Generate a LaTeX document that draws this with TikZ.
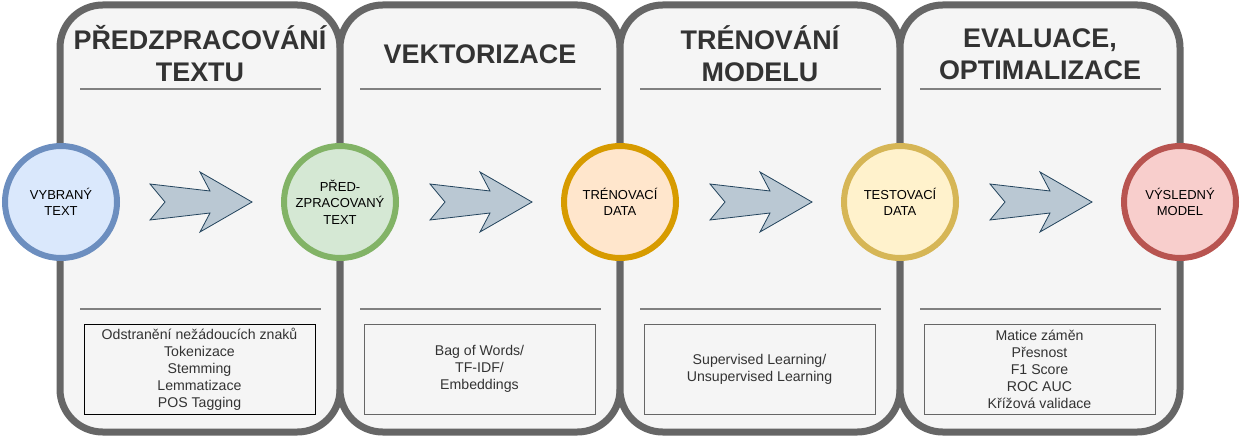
\documentclass[tikz,border=0pt]{standalone}
\usepackage{fontspec}
\setmainfont{Liberation Sans}
\usetikzlibrary{positioning}

\definecolor{panelfill}{HTML}{F5F5F5}
\definecolor{panelline}{HTML}{666666}
\definecolor{titlegray}{HTML}{333333}
\definecolor{rulegray}{HTML}{808080}
\definecolor{arrowfill}{HTML}{BAC8D3}
\definecolor{arrowline}{HTML}{23445D}

\begin{document}
\begin{tikzpicture}[
  x=0.75pt, y=-0.75pt,
  panel/.style={
    draw=panelline, fill=panelfill, line width=5.25pt,
    rounded corners=32pt, minimum width=210pt, minimum height=320.25pt,
    inner sep=0pt
  },
  title/.style={
    font=\fontsize{20.2}{24}\selectfont\bfseries, text=titlegray, align=center
  },
  rule/.style={draw=rulegray, line width=1.5pt},
  stage/.style={
    circle, line width=4.5pt, minimum size=84pt, inner sep=0pt,
    align=center, font=\fontsize{9.75}{12.4}\selectfont
  },
  listbox/.style={
    draw=panelline, line width=0.75pt,
    minimum width=173.25pt, minimum height=67.5pt, inner sep=0pt,
    align=center, font=\fontsize{10.6}{12.75}\selectfont, text=titlegray
  },
  flow/.style={fill=arrowfill, draw=arrowline, line width=0.6pt},
]

\useasboundingbox (0,0) rectangle (1241,438);

% panels
\node[panel] (p1) at (200,218.5) {};
\node[panel] (p2) at (480,218.5) {};
\node[panel] (p3) at (760,218.5) {};
\node[panel] (p4) at (1040,218.5) {};

% titles
\node[title] (t1) at (200,54) {PŘEDZPRACOVÁNÍ\\TEXTU};
\node[title] (t2) at (480,54) {VEKTORIZACE};
\node[title] (t3) at (760,54) {TRÉNOVÁNÍ\\MODELU};
\node[title] (t4) at (1040,54) {EVALUACE,\\OPTIMALIZACE};

% rules
\foreach \c in {200,480,760,1040} {
  \draw[rule] (\c-120,89) -- (\c+121,89);
  \draw[rule] (\c-120,309) -- (\c+121,309);
}

% lists
\node[listbox, draw=black] (l1) at (199.5,369) {Odstranění nežádoucích znaků\\Tokenizace\\Stemming\\Lemmatizace\\POS Tagging};
\node[listbox] (l2) at (479.5,369) {Bag of Words/\\TF-IDF/\\Embeddings};
\node[listbox] (l3) at (759.5,369) {Supervised Learning/\\Unsupervised Learning};
\node[listbox] (l4) at (1039.5,369) {Matice záměn\\Přesnost\\F1 Score\\ROC AUC\\Křížová validace};

% arrows
\foreach \c in {200,480,760,1040} {
  \draw[flow, shift={(\c-50,202)}]
    (0,-18) -- (60,-11) -- (50,-30) -- (102,0) -- (50,30) -- (60,11)
    -- (0,18) -- (15,0) -- cycle;
}

% stages
\node[stage, draw={rgb,255:red,108;green,142;blue,191}, fill={rgb,255:red,218;green,232;blue,252}] (vybrany) at (61,202) {VYBRANÝ\\TEXT};
\node[stage, draw={rgb,255:red,130;green,179;blue,102}, fill={rgb,255:red,213;green,232;blue,212}] (predzprac) at (340,202) {PŘED-\\ZPRACOVANÝ\\TEXT};
\node[stage, draw={rgb,255:red,215;green,155;blue,0}, fill={rgb,255:red,255;green,230;blue,204}] (trenovaci) at (620,202) {TRÉNOVACÍ\\DATA};
\node[stage, draw={rgb,255:red,214;green,182;blue,86}, fill={rgb,255:red,255;green,242;blue,204}] (testovaci) at (900,202) {TESTOVACÍ\\DATA};
\node[stage, draw={rgb,255:red,184;green,84;blue,80}, fill={rgb,255:red,248;green,206;blue,204}] (vysledny) at (1180,202) {VÝSLEDNÝ\\MODEL};

\end{tikzpicture}
\end{document}
